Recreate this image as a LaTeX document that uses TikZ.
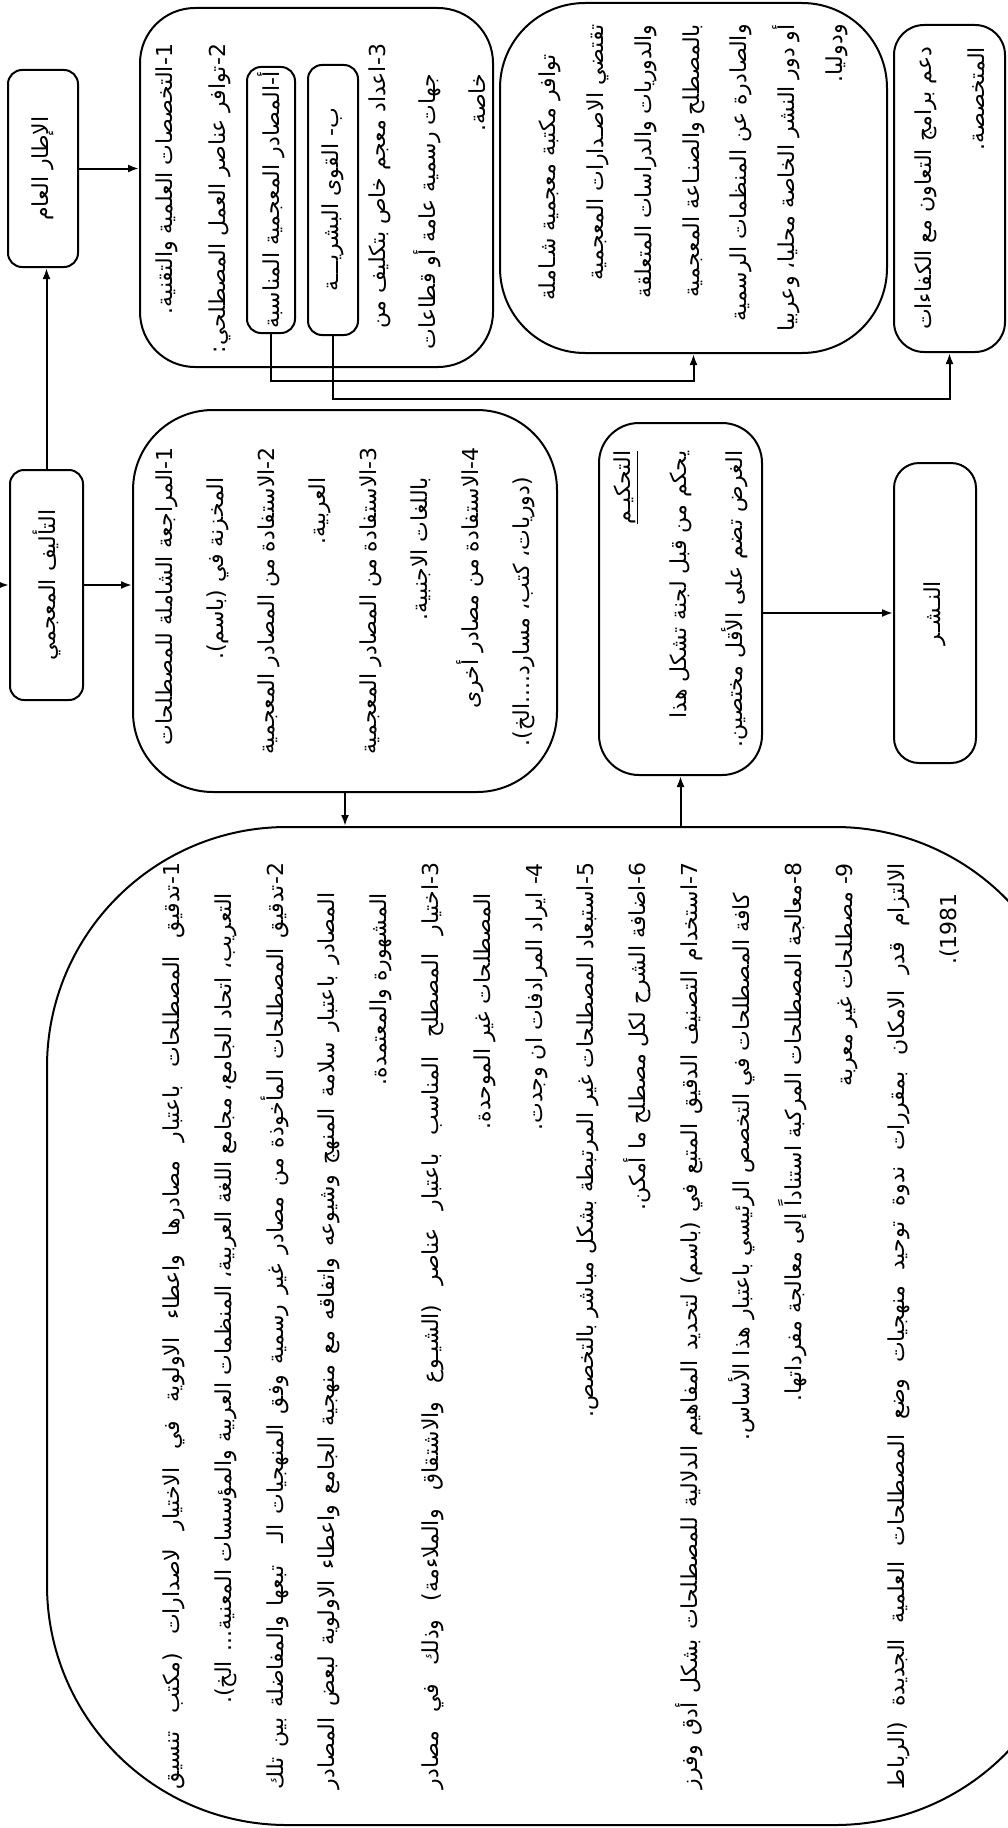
\documentclass[tikz,border=0pt]{standalone}
\usepackage{fontspec}
\newfontfamily\arabicfont[Script=Arabic]{DejaVu Sans}
\TeXXeTstate=1
\usetikzlibrary{arrows.meta}
\newcommand{\ar}[1]{\hbox{\beginR #1\endR}}
\newcommand{\arj}[1]{\hbox to 926pt{\beginR #1\endR}}
\newcommand{\ind}{\kern30pt}
\newcommand{\arfont}[1]{\arabicfont\fontsize{22}{#1}\selectfont}
\begin{document}
\begin{tikzpicture}[x=1pt,y=-1pt,line width=2pt,>={Latex[length=11pt,width=8pt]},
	box/.style = {draw, rotate=90, rounded corners=#1, inner sep=0pt, align=right, font=\arfont{50}},
	box/.default = 14pt,
	txt/.style = {rotate=90, inner sep=0pt, align=right}]
	\useasboundingbox (0,0) rectangle (1007,1828);

	% left column
	\node[box, minimum width=197pt, minimum height=70pt] (gen) at (43,168.5) {\ar{الإطار العام}};
	\node[box, minimum width=230pt, minimum height=73pt] (auth) at (46.5,585) {\ar{التأليف المعجمي}};
	\coordinate (in) at (0,585);

	% requirements
	\node[box=55pt, minimum width=359pt, minimum height=353pt] (spec) at (316.5,187.5) {};
	\node[txt, anchor=east, font=\arfont{53}] (spectop) at (193.5,43)
		{\ar{1-التخصصات العلمية والتقنية.}\\\ar{2-توافر عناصر العمل المصطلحي:}};
	\node[box, minimum width=266pt, minimum height=48pt] (src) at (271,200) {\ar{أ-المصادر المعجمية المناسبة}};
	\node[box, minimum width=270pt, minimum height=50pt] (staff) at (333,200) {\ar{ب- القوى البشريـــة}};
	\node[txt, anchor=east, font=\arfont{50}] (specbot) at (427,43)
		{\ar{3-اعداد معجم خاص بتكليف من}\\\ar{\ind جهات رسمية عامة أو قطاعات}\\\ar{\ind خاصة.}};
	\node[box=85pt, minimum width=350pt, minimum height=387pt, font=\arfont{47.8}] (lib) at (693.5,178)
		{\ar{\ind توافر مكتبة معجمية شـاملة}\\\ar{تقتضي الاصـدارات المعجمية}\\\ar{والدوريات والدراسات المتعلقة}\\
		 \ar{بالمصطلح والصنـاعة المعجمية}\\\ar{والصادرة عن المنظمات الرسمية}\\\ar{أو دور النشر الخاصة محليا، وعربيا}\\\ar{ودوليا.}};
	\node[box=30pt, minimum width=327pt, minimum height=111pt, font=\arfont{53}] (coop) at (949.5,188.5)
		{\ar{دعم برامج التعاون مع الكفاءات}\\\ar{المتخصصة.}};

	% authoring
	\node[box=80pt, minimum width=382pt, minimum height=424pt, font=\arfont{51}] (rev) at (345,601)
		{\ar{1-المراجعة الشاملة للمصطلحات}\\\ar{\ind المخزنة في (باسم).}\\\ar{2-الاستفادة من المصادر المعجمية}\\\ar{\ind العربية.}\\
		 \ar{3-الاستفادة من المصادر المعجمية}\\\ar{\ind باللغات الاجنبية.}\\\ar{4-الاستفادة من مصادر أخرى}\\\ar{\ind (دوريات، كتب، مسارد....الخ).}};
	\node[box=40pt, minimum width=352pt, minimum height=163pt, font=\arfont{56}] (arb) at (680.5,599)
		{\ar{\underline{التحكيـم}}\\\ar{يحكم من قبل لجنة تشكل هذا}\\\ar{الغرض تضم على الأقل مختصين.}};
	\node[box=25pt, minimum width=300pt, minimum height=82pt] (pub) at (935,613) {\ar{النـشـر}};
	\node[box=240pt, minimum width=998pt, minimum height=1028pt, font=\arfont{51.8}] (chk) at (561,1326)
		{\arj{1-تدقيق المصطلحات باعتبار مصادرها واعطاء الاولوية في الاختيار لاصدارات (مكتب تنسيق}\\
		 \ar{\ind التعريب، اتحاد الجامع، مجامع اللغة العربية، المنظمات العربية والمؤسسات المعنية... الخ).}\\
		 \arj{2-تدقيق المصطلحات المأخوذة من مصادر غير رسمية وفق المنهجيات الـ\quad تبعها والمفاضلة بين تلك}\\
		 \arj{\ind المصادر باعتبار سلامة المنهج وشيوعه واتفاقه مع منهجية الجامع واعطاء الاولوية لبعض المصادر}\\
		 \ar{\ind المشهورة والمعتمدة.}\\
		 \arj{3-اختيار المصطلح المناسب باعتبار عناصر (الشيـوع والاشتقاق والملاءمة) وذلك في مصادر}\\
		 \ar{\ind المصطلحات غير الموحدة.}\\
		 \ar{4- ايراد المرادفات ان وجدت.}\\
		 \ar{5-استبعاد المصطلحات غير المرتبطة بشكل مباشر بالتخصص.}\\
		 \ar{6-اضافة الشرح لكل مصطلح ما أمكن.}\\
		 \arj{7-استخدام التصنيف الدقيق المتبع في (باسم) لتحديد المفاهيم الدلالية للمصطلحات بشكل أدق وفرز}\\
		 \ar{\ind كافة المصطلحات في التخصص الرئيسي باعتبار هذا الأساس.}\\
		 \ar{8-معالجة المصطلحات المركبة استناداً إلى معالجة مفرداتها.}\\
		 \ar{9- مصطلحات غير معربة}\\
		 \arj{الالتزام قدر الامكان بمقررات ندوة توحيد منهجيات وضع المصطلحات العلمية الجديدة (الرباط}\\
		 \ar{\ind 1981).}};

	% connectors
	\draw[->] (auth.east) -- (auth.east |- gen.west);
	\draw[->] (gen.south) -- (gen.south -| spec.north);
	\draw[->] (in) -- (auth.north);
	\draw[->] (auth.south) -- (auth.south -| rev.north);
	\draw[->] (src.west) -- ++(0,47) -| (lib.west);
	\draw[->] (staff.west) -- ++(0,63) -| (coop.west);
	\draw[->] (rev.west) -- (rev.west |- chk.east);
	\draw[->] (arb.west |- chk.east) -- (arb.west);
	\draw[->] (arb.south |- pub.north) -- (pub.north);
\end{tikzpicture}
\end{document}
